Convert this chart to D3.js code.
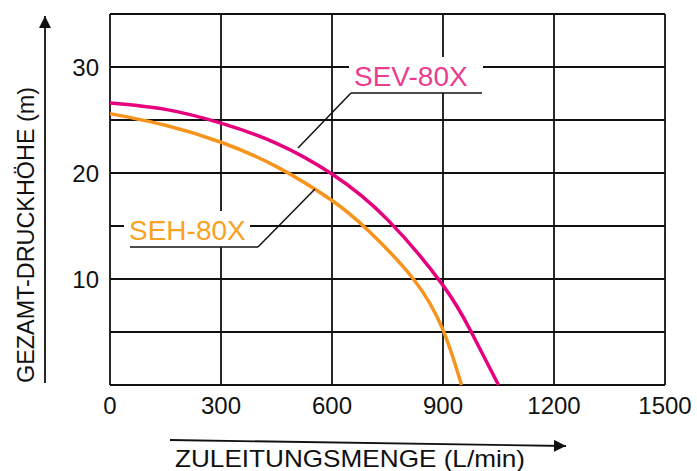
<!DOCTYPE html>
<html>
<head>
<meta charset="utf-8">
<script src="https://cdn.jsdelivr.net/npm/d3@7"></script>
<style>
  body { margin: 0; background: #fff; }
  text { font-family: "Liberation Sans", Arial, sans-serif; }
</style>
</head>
<body>
<script>
// pump curves
const flowTicks = [0, 300, 600, 900, 1200, 1500];
const headTicks = [10, 20, 30];
const headGrid = [0, 5, 10, 15, 20, 25, 30, 35];

const sevFlow = [0, 150, 300, 450, 600, 750, 900, 975, 1050];
const sevHead = [26.6, 26.0, 24.7, 22.8, 19.9, 15.6, 9.4, 5.1, 0];
const sehFlow = [0, 150, 300, 450, 600, 700, 820, 900, 950];
const sehHead = [25.6, 24.5, 22.9, 20.6, 17.4, 14.5, 10, 5.2, 0];

const W = 697, H = 471;
const m = { left: 110, top: 14, right: 32, bottom: 86 };

const svg = d3.select("body").append("svg")
  .attr("width", W).attr("height", H);

const x = d3.scaleLinear().domain([0, 1500]).range([m.left, W - m.right]);
const y = d3.scaleLinear().domain([0, 35]).range([H - m.bottom, m.top]);

// grid
const g = svg.append("g");
g.selectAll(".vg").data(flowTicks).join("line")
  .attr("x1", d => x(d)).attr("x2", d => x(d))
  .attr("y1", y(0)).attr("y2", y(35))
  .attr("stroke", "#111").attr("stroke-width", 1.8);
g.selectAll(".hg").data(headGrid).join("line")
  .attr("x1", x(0)).attr("x2", x(1500))
  .attr("y1", d => y(d)).attr("y2", d => y(d))
  .attr("stroke", "#111").attr("stroke-width", 1.8);

// tick labels
svg.selectAll(".xt").data(flowTicks).join("text")
  .attr("x", d => x(d)).attr("y", y(0) + 29)
  .attr("text-anchor", "middle").attr("font-size", 24).attr("fill", "#111")
  .text(d => d);
svg.selectAll(".yt").data(headTicks).join("text")
  .attr("x", 99).attr("y", d => y(d) + 9)
  .attr("text-anchor", "end").attr("font-size", 24).attr("fill", "#111")
  .text(d => d);

// curves
const line = d3.line().x(d => x(d[0])).y(d => y(d[1])).curve(d3.curveNatural);
svg.append("path").datum(d3.zip(sehFlow, sehHead))
  .attr("d", line).attr("fill", "none")
  .attr("stroke", "#f7941d").attr("stroke-width", 3.5);
svg.append("path").datum(d3.zip(sevFlow, sevHead))
  .attr("d", line).attr("fill", "none")
  .attr("stroke", "#e6007e").attr("stroke-width", 3.5);

// labels with leader lines
function label(txt, color, bx, by, bw, ulx1, ulx2, lx1, ly1, lx2, ly2) {
  svg.append("rect").attr("x", bx).attr("y", by - 36).attr("width", bw).attr("height", 36)
    .attr("fill", "#fff");
  svg.append("text").attr("x", bx + 5).attr("y", by - 7)
    .attr("font-size", 28).attr("fill", color).text(txt);
  svg.append("line").attr("x1", ulx1).attr("x2", ulx2).attr("y1", by).attr("y2", by)
    .attr("stroke", "#111").attr("stroke-width", 1.5);
  svg.append("line").attr("x1", lx1).attr("y1", ly1).attr("x2", lx2).attr("y2", ly2)
    .attr("stroke", "#111").attr("stroke-width", 1.5);
}
label("SEV-80X", "#ea3d8f", 349, 93, 134, 351, 482, 351, 93, 298, 148);
label("SEH-80X", "#f8a21f", 124, 247, 126, 130, 258, 258, 247, 315, 189);

// axis arrows
const defs = svg.append("defs");
defs.append("marker").attr("id", "arr").attr("viewBox", "0 0 10 10")
  .attr("refX", 10).attr("refY", 5).attr("markerWidth", 26).attr("markerHeight", 12)
  .attr("markerUnits", "userSpaceOnUse").attr("orient", "auto")
  .append("path").attr("d", "M0,0L10,5L0,10Z").attr("fill", "#111");

svg.append("line").attr("x1", 45).attr("y1", 383).attr("x2", 45).attr("y2", 16)
  .attr("stroke", "#111").attr("stroke-width", 1.8).attr("marker-end", "url(#arr)");
svg.append("line").attr("x1", 170).attr("y1", 440).attr("x2", 566).attr("y2", 446)
  .attr("stroke", "#111").attr("stroke-width", 1.8).attr("marker-end", "url(#arr)");

svg.append("text").attr("x", 175).attr("y", 467)
  .attr("font-size", 24).attr("fill", "#111")
  .attr("textLength", 350).attr("lengthAdjust", "spacingAndGlyphs")
  .text("ZULEITUNGSMENGE (L/min)");
svg.append("text").attr("transform", "translate(34,383) rotate(-90)")
  .attr("font-size", 24).attr("fill", "#111")
  .attr("textLength", 296).attr("lengthAdjust", "spacingAndGlyphs")
  .text("GEZAMT-DRUCKHÖHE (m)");
</script>
</body>
</html>
